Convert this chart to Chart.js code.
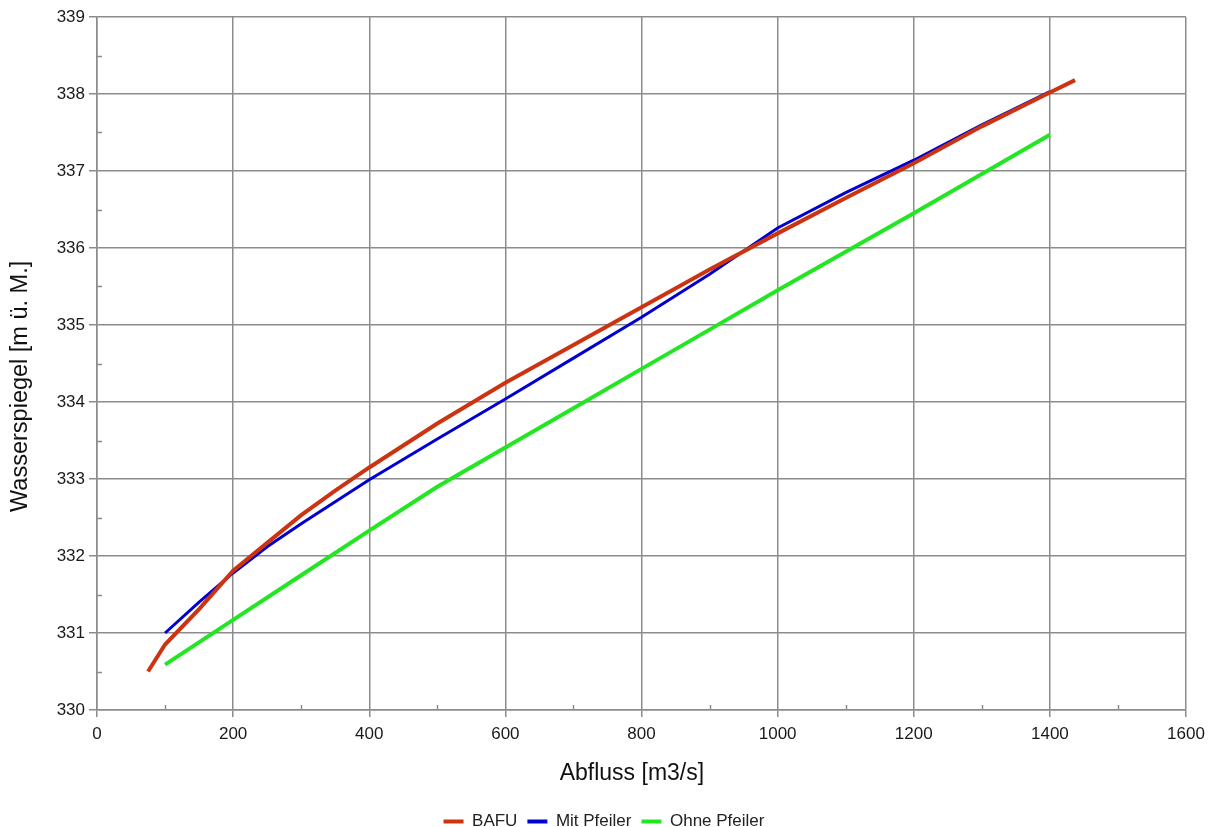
<!DOCTYPE html>
<html>
<head>
<meta charset="utf-8">
<script src="https://cdn.jsdelivr.net/npm/chart.js@4"></script>
<style>
html,body{margin:0;padding:0;background:#fff;}
#wrap{width:1208px;height:827px;}
</style>
</head>
<body>
<div id="wrap"><canvas id="c" width="1208" height="827"></canvas></div>
<script>
const bafuQ = [75, 100, 150, 200, 250, 300, 350, 400, 500, 600, 700, 800, 900, 1000, 1100, 1200, 1300, 1400, 1437];
const bafuH = [330.50, 330.85, 331.31, 331.81, 332.17, 332.53, 332.85, 333.15, 333.72, 334.25, 334.74, 335.23, 335.72, 336.19, 336.65, 337.10, 337.58, 338.02, 338.18];

const mitQ = [100, 150, 200, 250, 300, 400, 500, 600, 700, 800, 900, 1000, 1100, 1200, 1300, 1400];
const mitH = [331.00, 331.40, 331.78, 332.12, 332.42, 332.99, 333.52, 334.04, 334.57, 335.10, 335.66, 336.26, 336.72, 337.14, 337.60, 338.03];

const ohneQ = [100, 200, 300, 400, 500, 600, 700, 800, 900, 1000, 1100, 1200, 1300, 1400];
const ohneH = [330.59, 331.17, 331.75, 332.33, 332.90, 333.41, 333.92, 334.43, 334.94, 335.45, 335.95, 336.45, 336.96, 337.47];

const seriesNames = ['BAFU', 'Mit Pfeiler', 'Ohne Pfeiler'];
const xTitle = 'Abfluss [m3/s]';
const yTitle = 'Wasserspiegel [m ü. M.]';

function pts(xs, ys){ return xs.map((x,i)=>({x:x, y:ys[i]})); }

const gridCol = '#8c8c8c';
const FONT = '"Liberation Sans", Arial, sans-serif';
const PLOT_BOTTOM = 710;
const PLOT_RIGHT_GAP = 22;
const PAD_BOTTOM = -13;
const NB = '\u00a0';

const minorTicks = {
  id: 'minorTicks',
  afterDraw(chart){
    const ctx = chart.ctx, xs = chart.scales.x, ys = chart.scales.y;
    ctx.save();
    ctx.strokeStyle = gridCol; ctx.lineWidth = 1.5;
    for (let v = 100; v < 1600; v += 200){
      const px = Math.round(xs.getPixelForValue(v)) + 0.5;
      ctx.beginPath(); ctx.moveTo(px, ys.bottom); ctx.lineTo(px, ys.bottom - 5); ctx.stroke();
    }
    for (let v = 330.5; v < 339; v += 1){
      const py = Math.round(ys.getPixelForValue(v)) + 0.5;
      ctx.beginPath(); ctx.moveTo(xs.left, py); ctx.lineTo(xs.left + 5, py); ctx.stroke();
    }
    ctx.restore();
  }
};

new Chart(document.getElementById('c'), {
  type: 'line',
  data: {
    datasets: [
      {label: seriesNames[0], data: pts(bafuQ, bafuH), borderColor: '#cc3310', backgroundColor: '#cc3310', borderWidth: 4, pointRadius: 0, tension: 0},
      {label: seriesNames[1], data: pts(mitQ, mitH), borderColor: '#0000d0', backgroundColor: '#0000d0', borderWidth: 3, pointRadius: 0, tension: 0},
      {label: seriesNames[2], data: pts(ohneQ, ohneH), borderColor: '#22e622', backgroundColor: '#22e622', borderWidth: 4, pointRadius: 0, tension: 0}
    ]
  },
  options: {
    responsive: false,
    animation: false,
    layout: {padding: {top: 17, right: 0, bottom: PAD_BOTTOM, left: 0}},
    plugins: {
      tooltip: {enabled: false},
      legend: {
        position: 'bottom',
        labels: {
          font: {family: FONT, size: 17},
          color: '#222',
          boxWidth: 20,
          boxHeight: 4,
          padding: 10,
          generateLabels(chart){
            const items = Chart.defaults.plugins.legend.labels.generateLabels(chart);
            items.forEach(it => { it.lineWidth = 0; });
            return items;
          }
        }
      }
    },
    scales: {
      x: {
        type: 'linear', min: 0, max: 1600,
        ticks: {stepSize: 200, font: {family: FONT, size: 17}, color: '#1a1a1a', padding: 7, maxRotation: 0,
                callback: v => String(v)},
        grid: {color: gridCol, lineWidth: 1.5, tickLength: 7, tickColor: gridCol},
        border: {color: gridCol, width: 1.5},
        title: {display: true, text: xTitle + NB + NB + NB, font: {family: FONT, size: 23}, color: '#111', padding: {top: 0, bottom: 16}},
        afterFit(s){
          const lg = s.chart.legend;
          const lh = (lg && lg.height) ? lg.height : 40;
          s.height = s.chart.height - PAD_BOTTOM - lh - PLOT_BOTTOM;
          s.paddingRight = PLOT_RIGHT_GAP;
          s.paddingLeft = 0;
        }
      },
      y: {
        type: 'linear', min: 330, max: 339,
        ticks: {stepSize: 1, font: {family: FONT, size: 17}, color: '#1a1a1a', padding: 4,
                callback: v => String(v)},
        grid: {color: gridCol, lineWidth: 1.5, tickLength: 8, tickColor: gridCol},
        border: {color: gridCol, width: 1.5},
        title: {display: true, text: yTitle + NB.repeat(7), font: {family: FONT, size: 23.5}, color: '#111', padding: {top: 6, bottom: 0}},
        afterFit(s){ s.width = 97; }
      }
    }
  },
  plugins: [minorTicks]
});
</script>
</body>
</html>
